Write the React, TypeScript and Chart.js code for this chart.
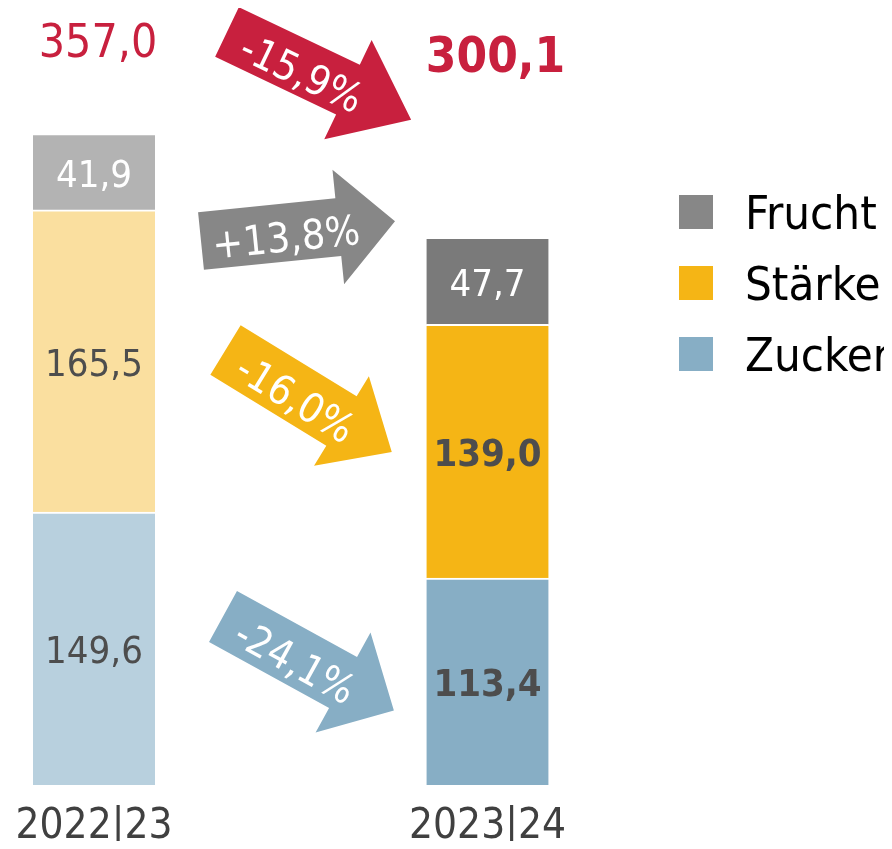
import React, { useEffect, useRef } from "react";
import { Chart, registerables } from "chart.js";
Chart.register(...registerables);

// ---------- data ----------
const categories = ["2022|23", "2023|24"];
const seriesNames = ["Zucker", "Stärke", "Frucht"];
const zucker = [149.6, 113.4];
const staerke = [165.5, 139.0];
const frucht = [41.9, 47.7];
// change labels: total, Frucht, Stärke, Zucker
const changeLabels = ["-15,9%", "+13,8%", "-16,0%", "-24,1%"];

// ---------- styles ----------
const FONT = '"DejaVu Sans Condensed", "DejaVu Sans", sans-serif';
const AXIS_FONT = '"DejaVu Sans Condensed", "DejaVu Sans", sans-serif';
const RED = "#c8203e";
const barColors: Record<string, string[]> = {
  Zucker: ["#b8d0de", "#87aec5"],
  "Stärke": ["#fadf9f", "#f5b515"],
  Frucht: ["#b3b3b3", "#7a7a7a"],
};
const legendColors: Record<string, string> = {
  Frucht: "#878787",
  "Stärke": "#f5b515",
  Zucker: "#87aec5",
};
const labelColors: Record<string, string[]> = {
  Zucker: ["#4d4d4d", "#4d4d4d"],
  "Stärke": ["#4d4d4d", "#4d4d4d"],
  Frucht: ["#ffffff", "#ffffff"],
};
const labelBold: Record<string, boolean[]> = {
  Zucker: [false, true],
  "Stärke": [false, true],
  Frucht: [false, false],
};
const arrowStyles = [
  { cx: 219, cy: 24, angle: 25.5, len: 204, head: 70, body: 55, headW: 110, color: RED },
  { cx: 193, cy: 233, angle: -5.8, len: 195, head: 57, body: 58, headW: 115, color: "#878787" },
  { cx: 217.5, cy: 342, angle: 31.5, len: 195, head: 59, body: 58, headW: 105, color: "#f5b515" },
  { cx: 215, cy: 608.5, angle: 28.8, len: 195, head: 58, body: 58, headW: 114, color: "#87aec5" },
];
const totalStyles = [
  { baseline: 49, size: 46, bold: false, dx: 4 },
  { baseline: 64, size: 49, bold: true, dx: 8 },
];
const legendStyle = { x: 671, y: 187, step: 71, box: 34, textX: 737, size: 47 };

const fmt = (v: number) => v.toFixed(1).replace(".", ",");

function drawArrow(ctx: CanvasRenderingContext2D, s: any, text: string) {
  ctx.save();
  ctx.translate(s.cx, s.cy);
  ctx.rotate((s.angle * Math.PI) / 180);
  const b = s.body / 2, h = s.headW / 2, j = s.len - s.head;
  ctx.beginPath();
  ctx.moveTo(0, -b);
  ctx.lineTo(j, -b);
  ctx.lineTo(j, -h);
  ctx.lineTo(s.len, 0);
  ctx.lineTo(j, h);
  ctx.lineTo(j, b);
  ctx.lineTo(0, b);
  ctx.closePath();
  ctx.fillStyle = s.color;
  ctx.fill();
  const size = 41;
  ctx.font = `${size}px ${FONT}`;
  ctx.fillStyle = "#ffffff";
  ctx.textAlign = "center";
  ctx.textBaseline = "alphabetic";
  ctx.fillText(text, 85, 4 + 0.365 * size);
  ctx.restore();
}

const overlayPlugin = {
  id: "overlay",
  afterDatasetsDraw(chart: any) {
    const ctx: CanvasRenderingContext2D = chart.ctx;
    ctx.save();
    // value labels inside bars
    chart.data.datasets.forEach((ds: any, di: number) => {
      const meta = chart.getDatasetMeta(di);
      const name = ds.label as string;
      meta.data.forEach((bar: any, i: number) => {
        const p = bar.getProps(["x", "y", "base"], true);
        const cy = (p.y + p.base) / 2 + 1;
        const size = 38;
        ctx.font = `${labelBold[name][i] ? "bold " : ""}${size}px ${FONT}`;
        ctx.fillStyle = labelColors[name][i];
        ctx.textAlign = "center";
        ctx.textBaseline = "alphabetic";
        ctx.fillText(fmt(ds.data[i]), p.x, cy + 0.365 * size);
      });
    });
    // totals
    const topMeta = chart.getDatasetMeta(chart.data.datasets.length - 1);
    categories.forEach((_, i) => {
      const total = chart.data.datasets.reduce((s: number, ds: any) => s + ds.data[i], 0);
      const st = totalStyles[i];
      const x = topMeta.data[i].x + st.dx;
      ctx.font = `${st.bold ? "bold " : ""}${st.size}px ${FONT}`;
      ctx.fillStyle = RED;
      ctx.textAlign = "center";
      ctx.textBaseline = "alphabetic";
      ctx.fillText(fmt(total), x, st.baseline);
    });
    // arrows
    arrowStyles.forEach((s, i) => drawArrow(ctx, s, changeLabels[i]));
    // legend
    const order = [...seriesNames].reverse();
    order.forEach((name, i) => {
      const y = legendStyle.y + i * legendStyle.step;
      ctx.fillStyle = legendColors[name];
      ctx.fillRect(legendStyle.x, y, legendStyle.box, legendStyle.box);
      ctx.font = `${legendStyle.size}px ${FONT}`;
      ctx.fillStyle = "#000000";
      ctx.textAlign = "left";
      ctx.textBaseline = "alphabetic";
      ctx.fillText(name, legendStyle.textX, y + legendStyle.box / 2 + 0.365 * legendStyle.size);
    });
    ctx.restore();
  },
};

export default function App() {
  const ref = useRef<HTMLCanvasElement>(null);
  useEffect(() => {
    if (!ref.current) return;
    const seriesValues: Record<string, number[]> = { Zucker: zucker, "Stärke": staerke, Frucht: frucht };
    const chart = new Chart(ref.current, {
      type: "bar",
      data: {
        labels: categories,
        datasets: seriesNames.map((name) => ({
          label: name,
          data: seriesValues[name],
          backgroundColor: barColors[name],
          borderColor: "#ffffff",
          borderWidth: { top: 2, bottom: 0, left: 0, right: 0 },
          borderSkipped: false,
          barThickness: 122,
          clip: false as any,
        })),
      },
      options: {
        animation: false,
        responsive: false,
        devicePixelRatio: 1,
        layout: { padding: { left: 86, right: 396.5, top: 10.5, bottom: -20 } },
        plugins: { legend: { display: false }, tooltip: { enabled: false } },
        scales: {
          x: {
            stacked: true,
            offset: false,
            grid: { display: false, drawTicks: false },
            border: { display: false },
            ticks: {
              color: "#404040",
              font: { family: AXIS_FONT, size: 42, lineHeight: 74 / 42 },
              padding: 5,
              maxRotation: 0,
              autoSkip: false,
            },
          },
          y: {
            stacked: true,
            display: false,
            min: 0,
            max: 420,
          },
        },
      },
      plugins: [overlayPlugin],
    } as any);
    return () => chart.destroy();
  }, []);
  return (
    <div style={{ width: 876, height: 841, marginBottom: -8 }}>
      <canvas ref={ref} width={876} height={841} style={{ display: "block" }} />
    </div>
  );
}
